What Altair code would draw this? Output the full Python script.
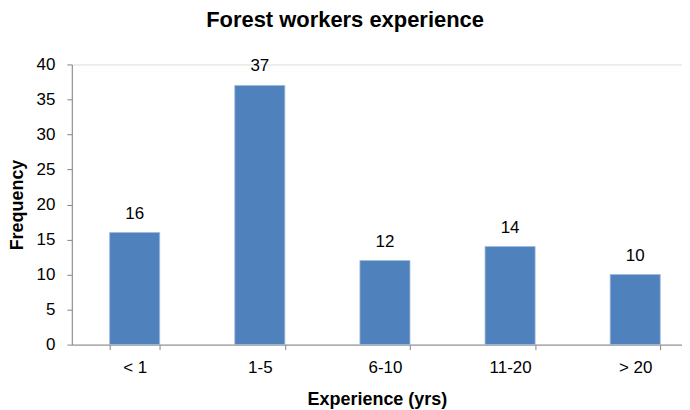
import altair as alt
import pandas as pd

categories = ["< 1", "1-5", "6-10", "11-20", "> 20"]
frequency = [16, 37, 12, 14, 10]
y_ticks = [0, 5, 10, 15, 20, 25, 30, 35, 40]

df = pd.DataFrame({"exp": categories, "freq": frequency})

FONT = "Liberation Sans"
STEP_HALF_GAP = 0.3 * 125.5

x = alt.X(
    "exp:N",
    sort=categories,
    title="Experience (yrs)",
    scale=alt.Scale(paddingInner=0.6, paddingOuter=0.238, align=0.635),
    axis=alt.Axis(
        labelAngle=0,
        tickBand="extent",
        tickOffset=-STEP_HALF_GAP,
        tickSize=5,
        tickColor="#868686",
        domainColor="#868686",
        labelFontSize=17,
        labelPadding=10,
        titleFontSize=18,
        titlePadding=15,
        labelColor="#000000",
        titleColor="#000000",
    ),
)

y = alt.Y(
    "freq:Q",
    title="Frequency",
    scale=alt.Scale(domain=[0, 40]),
    axis=alt.Axis(
        values=y_ticks,
        labelOverlap=False,
        grid=False,
        tickSize=5,
        tickColor="#868686",
        domainColor="#868686",
        labelFontSize=17,
        labelPadding=12,
        titleFontSize=18,
        titlePadding=10,
        labelColor="#000000",
        titleColor="#000000",
    ),
)

base = alt.Chart(df).encode(x=x, y=y)

bars = base.mark_bar(color="#4f81bd", stroke="#9fbadb", strokeWidth=0.8)

labels = base.mark_text(
    baseline="alphabetic", dy=-14, fontSize=17, color="#000000", font=FONT
).encode(text="freq:Q")

chart = (
    alt.layer(bars, labels)
    .properties(
        width=612,
        height=281,
        padding=0,
        title=alt.TitleParams(
            "Forest workers experience",
            fontSize=22,
            fontWeight="bold",
            font=FONT,
            anchor="middle",
            frame="bounds",
            offset=24,
            color="#000000",
        ),
    )
    .configure_view(fill="#f2f2f2", stroke=None)
    .configure_axis(labelFont=FONT, titleFont=FONT, titleFontWeight="bold")
    .configure(background="#ffffff")
)

chart.save("out.html", embed_options={"renderer": "svg", "actions": False})
